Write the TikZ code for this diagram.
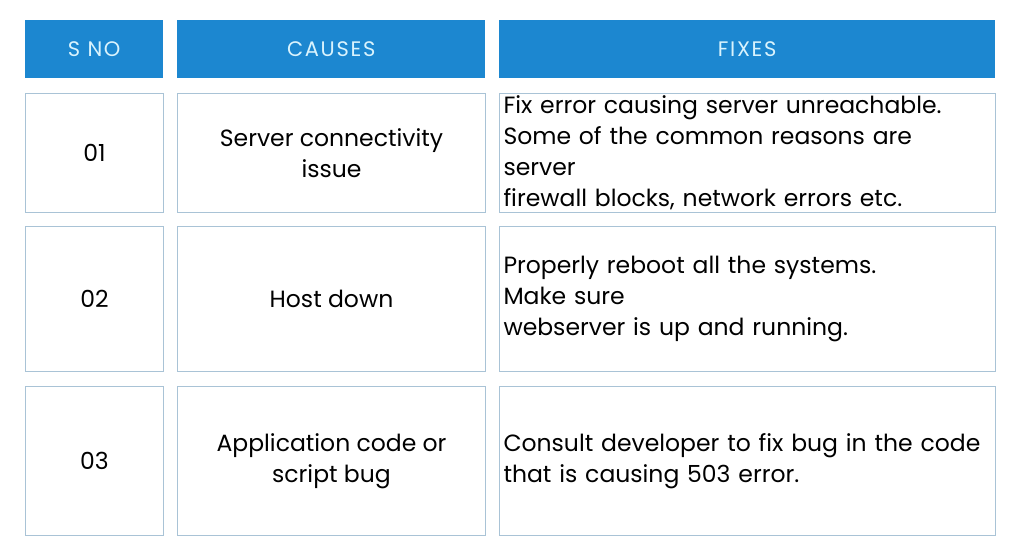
\documentclass[tikz,border=0pt]{standalone}
\usepackage{fontspec}
\setmainfont{Poppins}
\usetikzlibrary{positioning}
\definecolor{headblue}{HTML}{1C87D0}
\definecolor{cellline}{HTML}{A9C3D6}
\begin{document}
\begin{tikzpicture}[x=1pt, y=-1pt,
    head/.style = {fill=headblue, text=white!85!cyan,
                   font=\fontsize{21}{24}\selectfont\addfontfeature{LetterSpace=8},
                   anchor=north west, inner sep=0pt, align=center},
    cell/.style = {draw=cellline, line width=1pt, fill=white, anchor=north west,
                   inner sep=0pt, font=\fontsize{23.5}{31}\selectfont},
    mid/.style  = {align=center},
    fix/.style  = {align=left, text width=488pt}
  ]
  \useasboundingbox (0,0) rectangle (1024,556);
  % header row
  \node (hs) [head, minimum width=138pt, minimum height=58pt] at (25,20) {S NO};
  \node (hc) [head, minimum width=308pt, minimum height=58pt] at (177,20) {CAUSES};
  \node (hf) [head, minimum width=496pt, minimum height=58pt] at (499,20) {FIXES};
  % row 1
  \node (s1) [cell, mid, minimum width=138pt, minimum height=119pt] at (25,93) {01};
  \node (c1) [cell, mid, minimum width=308pt, minimum height=119pt] at (177,93) {Server connectivity\\issue};
  \node (f1) [cell, fix, minimum width=496pt, minimum height=119pt] at (499,93)
     {Fix error causing server unreachable.\\Some of the common reasons are server\\firewall blocks, network errors etc.};
  % row 2
  \node (s2) [cell, mid, minimum width=138pt, minimum height=145pt] at (25,226) {02};
  \node (c2) [cell, mid, minimum width=308pt, minimum height=145pt] at (177,226) {Host down};
  \node (f2) [cell, fix, minimum width=496pt, minimum height=145pt] at (499,226)
     {Properly reboot all the systems.\ Make~sure\\webserver is up and running.};
  % row 3
  \node (s3) [cell, mid, minimum width=138pt, minimum height=149pt] at (25,386) {03};
  \node (c3) [cell, mid, minimum width=308pt, minimum height=149pt] at (177,386) {Application code or\\script bug};
  \node (f3) [cell, fix, minimum width=496pt, minimum height=149pt] at (499,386)
     {Consult developer to fix bug in the code\\that is causing 503 error.};
\end{tikzpicture}
\end{document}
